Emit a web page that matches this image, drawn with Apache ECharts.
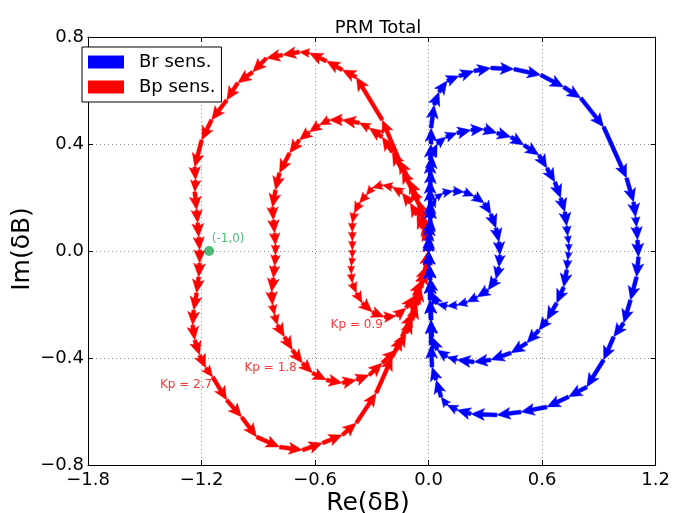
<!DOCTYPE html>
<html><head><meta charset="utf-8">
<script src="https://cdn.jsdelivr.net/npm/echarts@6/dist/echarts.min.js"></script>
<style>html,body{margin:0;padding:0;background:#fff}#c{width:673px;height:513px}</style>
</head><body><div id="c"></div>
<script>
// ---- data (Re, Im) ----
const xTicks = [-1.8, -1.2, -0.6, 0.0, 0.6, 1.2];
const yTicks = [-0.8, -0.4, 0.0, 0.4, 0.8];

const bpKp09 = [[0,0],[-0.008,0.041],[-0.029,0.086],[-0.061,0.135],[-0.097,0.179],[-0.140,0.217],[-0.192,0.239],[-0.245,0.247],[-0.298,0.236],[-0.329,0.209],[-0.366,0.179],[-0.393,0.142],[-0.403,0.105],[-0.403,0.071],[-0.403,0.037],[-0.403,0.004],[-0.403,-0.026],[-0.409,-0.056],[-0.409,-0.086],[-0.403,-0.120],[-0.382,-0.157],[-0.351,-0.194],[-0.298,-0.228],[-0.235,-0.247],[-0.171,-0.243],[-0.119,-0.213],[-0.076,-0.168],[-0.040,-0.112],[-0.013,-0.056],[0,0]];
const bpKp18 = [[0,0],[-0.008,0.049],[-0.024,0.108],[-0.050,0.172],[-0.092,0.236],[-0.140,0.303],[-0.192,0.370],[-0.245,0.426],[-0.314,0.460],[-0.366,0.479],[-0.456,0.490],[-0.525,0.490],[-0.577,0.471],[-0.630,0.445],[-0.683,0.415],[-0.735,0.366],[-0.788,0.292],[-0.809,0.228],[-0.825,0.164],[-0.820,0.116],[-0.814,0.067],[-0.809,0.022],[-0.809,-0.015],[-0.814,-0.056],[-0.820,-0.101],[-0.830,-0.153],[-0.825,-0.202],[-0.814,-0.239],[-0.799,-0.277],[-0.762,-0.321],[-0.720,-0.370],[-0.667,-0.419],[-0.614,-0.456],[-0.540,-0.482],[-0.456,-0.493],[-0.382,-0.482],[-0.314,-0.464],[-0.245,-0.419],[-0.171,-0.370],[-0.119,-0.307],[-0.087,-0.258],[-0.061,-0.202],[-0.040,-0.138],[-0.018,-0.071],[0,0]];
const bpKp27 = [[0,0],[-0.003,0.041],[-0.013,0.086],[-0.029,0.134],[-0.055,0.191],[-0.103,0.265],[-0.156,0.340],[-0.245,0.490],[-0.382,0.650],[-0.456,0.677],[-0.540,0.710],[-0.630,0.740],[-0.683,0.744],[-0.772,0.733],[-0.857,0.721],[-0.930,0.669],[-1.009,0.628],[-1.067,0.564],[-1.147,0.490],[-1.199,0.415],[-1.236,0.314],[-1.231,0.265],[-1.236,0.221],[-1.226,0.153],[-1.220,0.105],[-1.215,0.052],[-1.210,0.004],[-1.210,-0.045],[-1.215,-0.097],[-1.226,-0.157],[-1.241,-0.221],[-1.247,-0.277],[-1.236,-0.333],[-1.210,-0.389],[-1.178,-0.437],[-1.141,-0.471],[-1.067,-0.557],[-0.988,-0.621],[-0.909,-0.695],[-0.788,-0.733],[-0.667,-0.744],[-0.561,-0.718],[-0.456,-0.688],[-0.382,-0.643],[-0.277,-0.531],[-0.192,-0.396],[-0.140,-0.321],[-0.087,-0.232],[-0.050,-0.146],[-0.018,-0.071],[0,0]];

const brKp09 = [[0,0],[0.003,0.037],[0.008,0.079],[0.013,0.123],[0.018,0.168],[0.040,0.198],[0.076,0.217],[0.129,0.224],[0.187,0.221],[0.240,0.206],[0.293,0.179],[0.329,0.138],[0.356,0.086],[0.372,0.034],[0.377,-0.015],[0.372,-0.060],[0.356,-0.105],[0.314,-0.146],[0.256,-0.172],[0.203,-0.191],[0.150,-0.202],[0.098,-0.206],[0.045,-0.198],[0.018,-0.153],[0.008,-0.101],[0.003,-0.049],[0,0]];
const brKp18 = [[0,0],[0.003,0.049],[0.008,0.108],[0.008,0.172],[0.008,0.236],[0.013,0.303],[0.018,0.359],[0.045,0.400],[0.092,0.426],[0.150,0.441],[0.224,0.452],[0.293,0.456],[0.361,0.441],[0.435,0.426],[0.504,0.396],[0.583,0.359],[0.625,0.310],[0.667,0.258],[0.698,0.198],[0.720,0.146],[0.730,0.093],[0.735,0.056],[0.741,0.026],[0.741,-0.004],[0.735,-0.034],[0.730,-0.071],[0.714,-0.135],[0.677,-0.194],[0.625,-0.258],[0.583,-0.296],[0.519,-0.344],[0.435,-0.381],[0.329,-0.407],[0.240,-0.415],[0.150,-0.407],[0.098,-0.396],[0.045,-0.370],[0.018,-0.321],[0.013,-0.258],[0.008,-0.183],[0.008,-0.108],[0.003,-0.052],[0,0]];
const brKp27 = [[0,0],[0.003,0.060],[0.008,0.123],[0.008,0.190],[0.008,0.265],[0.008,0.340],[0.013,0.400],[0.013,0.460],[0.029,0.546],[0.055,0.594],[0.098,0.636],[0.161,0.654],[0.240,0.673],[0.329,0.684],[0.451,0.680],[0.593,0.658],[0.714,0.613],[0.804,0.572],[0.925,0.464],[1.046,0.273],[1.083,0.183],[1.094,0.127],[1.099,0.090],[1.104,0.041],[1.109,-0.022],[1.099,-0.097],[1.067,-0.183],[1.031,-0.269],[0.978,-0.321],[0.925,-0.407],[0.836,-0.508],[0.740,-0.545],[0.625,-0.583],[0.488,-0.602],[0.361,-0.613],[0.224,-0.609],[0.150,-0.594],[0.098,-0.576],[0.066,-0.546],[0.040,-0.482],[0.018,-0.434],[0.013,-0.351],[0.013,-0.258],[0.008,-0.183],[0.008,-0.108],[0.003,-0.052],[0,0]];

const criticalPoint = [[-1.16, 0.0]];
const criticalLabel = '(-1,0)';
const criticalLabelPos = [[-1.146, 0.045]];
const kpLabels = ['Kp = 0.9', 'Kp = 1.8', 'Kp = 2.7'];
const kpLabelPos = [[-0.518, -0.277], [-0.973, -0.437], [-1.42, -0.50]];

const BLUE = '#0000ff', RED = '#ff0000', GREEN = '#22aa55';

function segs(pts) {
  const out = [];
  for (let i = 0; i < pts.length - 1; i++) out.push([pts[i][0], pts[i][1], pts[i+1][0], pts[i+1][1]]);
  return out;
}
function arrowRender(color) {
  return function (params, api) {
    const a = api.coord([api.value(0), api.value(1)]);
    const b = api.coord([api.value(2), api.value(3)]);
    const dx = b[0] - a[0], dy = b[1] - a[1];
    const L = Math.hypot(dx, dy);
    if (L < 0.3) return;
    const ux = dx / L, uy = dy / L, px = -uy, py = ux;
    const HAL = 11.5, HL = 13.5, HW = 12, SW = 4;
    const s = L < HL ? L / HL : 1;
    const loc = [[0, -SW/2*s], [L - HAL*s, -SW/2*s], [L - HL*s, -HW/2*s], [L, 0], [L - HL*s, HW/2*s], [L - HAL*s, SW/2*s], [0, SW/2*s]];
    const pts = loc.map(function (q) { return [a[0] + ux*q[0] + px*q[1], a[1] + uy*q[0] + py*q[1]]; });
    return { type: 'polygon', shape: { points: pts }, style: { fill: color, stroke: color, lineWidth: 0.4, opacity: 1 } };
  };
}
function arrowSeries(name, pts, color) {
  return {
    type: 'custom', name: name, renderItem: arrowRender(color), itemStyle: { color: color },
    data: segs(pts), encode: { x: [0, 2], y: [1, 3] }, silent: true, animation: false, clip: false
  };
}
function fmt(v) {
  const s = Math.abs(v) < 1e-9 ? '0.0' : Math.abs(v).toFixed(1);
  return (v < -1e-9 ? '\u2212' : '') + s;
}

const chart = echarts.init(document.getElementById('c'), null, { renderer: 'canvas' });
const FONT = 'DejaVu Sans';
const gridPos = { left: 88, top: 37, width: 569, height: 428 };
const axisCommon = {
  axisLine: { show: true, onZero: false, lineStyle: { color: '#000', width: 1 } },
  axisTick: { show: true, inside: true, length: 5, lineStyle: { color: '#000' } }
};
chart.setOption({
  animation: false,
  backgroundColor: '#fff',
  title: { text: 'PRM Total', left: 373, top: 14, textAlign: 'center',
    textStyle: { fontFamily: FONT, fontSize: 18, fontWeight: 'normal', color: '#000' } },
  grid: gridPos,
  legend: {
    orient: 'vertical', left: 82, top: 47, itemWidth: 36, itemHeight: 13, itemGap: 7,
    padding: [6, 6, 6, 6], borderColor: '#000', borderWidth: 1, borderRadius: 0, backgroundColor: '#fff',
    textStyle: { fontFamily: FONT, fontSize: 18, color: '#000', padding: [0, 0, 0, 10] },
    selectedMode: false,
    data: [
      { name: 'Br sens.', icon: 'rect', itemStyle: { color: BLUE } },
      { name: 'Bp sens.', icon: 'rect', itemStyle: { color: RED } }
    ]
  },
  xAxis: [
    Object.assign({ type: 'value', position: 'bottom', min: xTicks[0], max: xTicks[xTicks.length-1], interval: 0.6,
      axisLabel: { formatter: fmt, fontFamily: FONT, fontSize: 18, color: '#000', margin: 6 },
      splitLine: { show: true, lineStyle: { color: '#888', type: [1, 3], width: 1 } } }, axisCommon),
    Object.assign({ type: 'value', position: 'top', min: xTicks[0], max: xTicks[xTicks.length-1], interval: 0.6,
      axisLabel: { show: false }, splitLine: { show: false } }, axisCommon)
  ],
  yAxis: [
    Object.assign({ type: 'value', position: 'left', min: yTicks[0], max: yTicks[yTicks.length-1], interval: 0.4,
      axisLabel: { formatter: fmt, fontFamily: FONT, fontSize: 18, color: '#000', margin: 4 },
      splitLine: { show: true, lineStyle: { color: '#888', type: [1, 3], width: 1 } } }, axisCommon),
    Object.assign({ type: 'value', position: 'right', min: yTicks[0], max: yTicks[yTicks.length-1], interval: 0.4,
      axisLabel: { show: false }, splitLine: { show: false } }, axisCommon)
  ],
  graphic: [
    { type: 'text', x: 368, y: 503, style: { text: 'Re(\u03b4B)', font: '25px "DejaVu Sans"', fill: '#000', align: 'center', verticalAlign: 'middle' } },
    { type: 'text', x: 22, y: 249, rotation: Math.PI / 2, style: { text: 'Im(\u03b4B)', font: '25px "DejaVu Sans"', fill: '#000', align: 'center', verticalAlign: 'middle' } }
  ],
  series: [
    arrowSeries('Bp sens.', bpKp27, RED),
    arrowSeries('Bp sens.', bpKp18, RED),
    arrowSeries('Bp sens.', bpKp09, RED),
    arrowSeries('Br sens.', brKp27, BLUE),
    arrowSeries('Br sens.', brKp18, BLUE),
    arrowSeries('Br sens.', brKp09, BLUE),
    { type: 'scatter', name: 'crit', data: criticalPoint, symbolSize: 10, itemStyle: { color: GREEN }, silent: true },
    { type: 'scatter', name: 'critlabel', data: criticalLabelPos, symbolSize: 0, silent: true,
      label: { show: true, position: 'right', distance: 0, formatter: criticalLabel, color: GREEN, fontFamily: FONT, fontSize: 12 } },
    { type: 'scatter', name: 'kp', data: kpLabelPos.map(function (p, i) { return { value: p, label: { formatter: kpLabels[i] } }; }),
      symbolSize: 0, silent: true,
      label: { show: true, position: 'right', distance: 0, color: RED, fontFamily: FONT, fontSize: 12 } }
  ]
});
</script></body></html>
